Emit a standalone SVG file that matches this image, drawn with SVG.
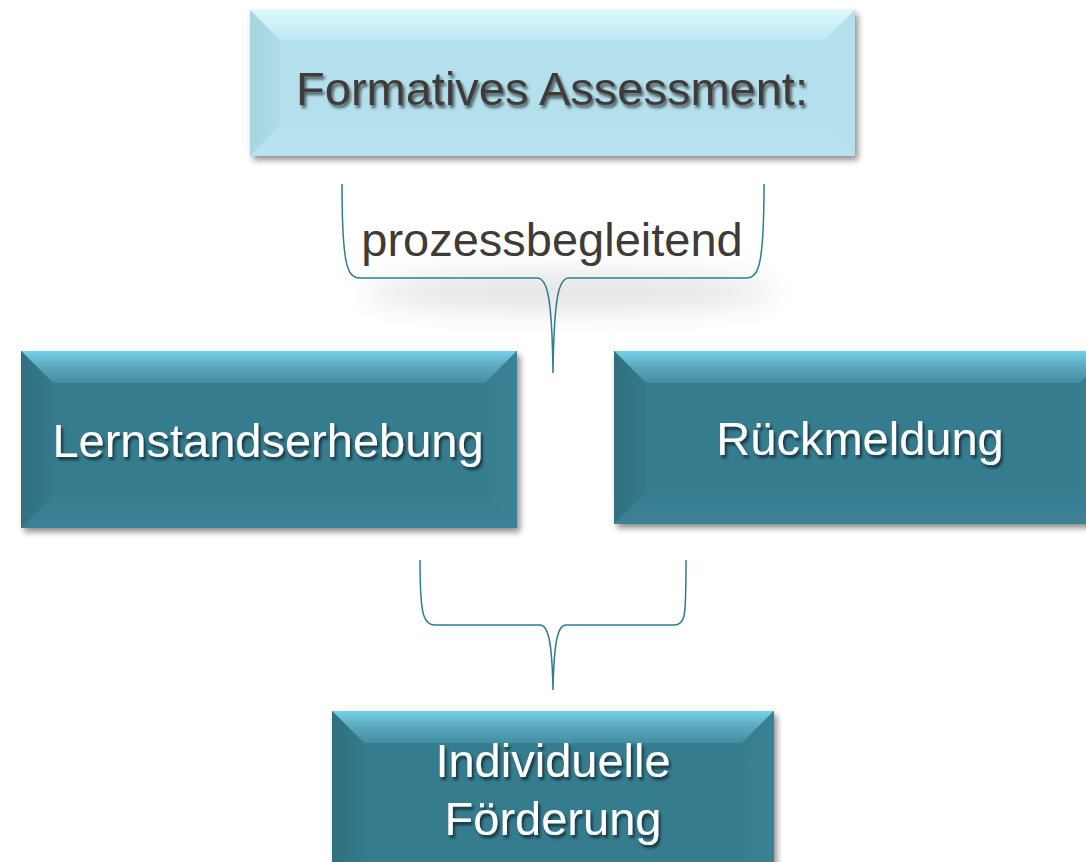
<svg xmlns="http://www.w3.org/2000/svg" width="1086" height="862" viewBox="0 0 1086 862">
<defs>
  <filter id="drop" x="-10%" y="-10%" width="125%" height="130%">
    <feGaussianBlur in="SourceAlpha" stdDeviation="3"/>
    <feOffset dx="3" dy="4" result="b"/>
    <feComponentTransfer><feFuncA type="linear" slope="0.45"/></feComponentTransfer>
    <feMerge><feMergeNode/><feMergeNode in="SourceGraphic"/></feMerge>
  </filter>
  <filter id="tshadow" x="-5%" y="-20%" width="115%" height="150%">
    <feGaussianBlur in="SourceAlpha" stdDeviation="1.6"/>
    <feOffset dx="2" dy="3" result="b"/>
    <feComponentTransfer><feFuncA type="linear" slope="0.6"/></feComponentTransfer>
    <feMerge><feMergeNode/><feMergeNode in="SourceGraphic"/></feMerge>
  </filter>
  <filter id="soft" x="-30%" y="-100%" width="160%" height="300%">
    <feGaussianBlur stdDeviation="14"/>
  </filter>
  <linearGradient id="tTop" x1="0" y1="0" x2="0" y2="1">
    <stop offset="0" stop-color="#74d0e8"/>
    <stop offset="0.5" stop-color="#5aa8bd"/>
    <stop offset="1" stop-color="#458ea2"/>
  </linearGradient>
  <linearGradient id="tLeft" x1="0" y1="0" x2="1" y2="0">
    <stop offset="0" stop-color="#30707f"/>
    <stop offset="1" stop-color="#35798c"/>
  </linearGradient>
  <linearGradient id="tRight" x1="0" y1="0" x2="1" y2="0">
    <stop offset="0" stop-color="#387e91"/>
    <stop offset="1" stop-color="#3a8194"/>
  </linearGradient>
  <linearGradient id="tBot" x1="0" y1="0" x2="0" y2="1">
    <stop offset="0" stop-color="#377d90"/>
    <stop offset="1" stop-color="#3b8195"/>
  </linearGradient>
  <linearGradient id="lTop" x1="0" y1="0" x2="0" y2="1">
    <stop offset="0" stop-color="#dcf8fd"/>
    <stop offset="1" stop-color="#bfe8f2"/>
  </linearGradient>
  <linearGradient id="lLeft" x1="0" y1="0" x2="1" y2="0">
    <stop offset="0" stop-color="#a6d4e1"/>
    <stop offset="1" stop-color="#afdce8"/>
  </linearGradient>
  <style>
    .t { font-family: "Liberation Sans", Arial, sans-serif; font-size: 47px; text-anchor: middle; }
    .w { fill: #ffffff; }
    .d { fill: #403b37; }
    .face { fill: #367c8f; }
    .lface { fill: #b3e0ec; }
    .brace { fill: none; stroke: #2e7d91; stroke-width: 1.5; }
  </style>
</defs>
<rect width="1086" height="862" fill="#ffffff"/>

<!-- callout shadow -->
<ellipse cx="570" cy="292" rx="205" ry="20" fill="#000" opacity="0.1" filter="url(#soft)"/>

<g id="node-formatives">
  <g filter="url(#drop)">
    <rect x="250" y="10" width="605" height="146" class="lface"/>
    <polygon points="250,10 855,10 825,40 280,40" fill="url(#lTop)"/>
    <polygon points="250,10 280,40 280,126 250,156" fill="url(#lLeft)"/>
    <polygon points="855,10 855,156 825,126 825,40" fill="#b5e1ed"/>
    <polygon points="250,156 280,126 825,126 855,156" fill="#b7e3ee"/>
    <rect x="280" y="40" width="545" height="86" class="lface"/>
  </g>
  <text x="552" y="105" class="t d" filter="url(#tshadow)">Formatives Assessment:</text>
</g>

<g id="node-lernstand">
  <g filter="url(#drop)">
    <rect x="21" y="351" width="496" height="177" class="face"/>
    <polygon points="21,351 517,351 485,383 53,383" fill="url(#tTop)"/>
    <polygon points="21,351 53,383 53,496 21,528" fill="url(#tLeft)"/>
    <polygon points="517,351 517,528 485,496 485,383" fill="url(#tRight)"/>
    <polygon points="21,528 53,496 485,496 517,528" fill="url(#tBot)"/>
    <rect x="53" y="383" width="432" height="113" class="face"/>
  </g>
  <text x="268" y="457" class="t w" filter="url(#tshadow)">Lernstandserhebung</text>
</g>

<g id="node-rueckmeldung">
  <g filter="url(#drop)">
    <rect x="614" y="351" width="498" height="173" class="face"/>
    <polygon points="614,351 1112,351 1080,383 646,383" fill="url(#tTop)"/>
    <polygon points="614,351 646,383 646,492 614,524" fill="url(#tLeft)"/>
    <polygon points="1112,351 1112,524 1080,492 1080,383" fill="url(#tRight)"/>
    <polygon points="614,524 646,492 1080,492 1112,524" fill="url(#tBot)"/>
    <rect x="646" y="383" width="434" height="109" class="face"/>
  </g>
  <text x="860" y="455" class="t w" filter="url(#tshadow)">Rückmeldung</text>
</g>

<g id="node-foerderung">
  <g filter="url(#drop)">
    <rect x="332" y="711" width="442" height="177" class="face"/>
    <polygon points="332,711 774,711 742,743 364,743" fill="url(#tTop)"/>
    <polygon points="332,711 364,743 364,856 332,888" fill="url(#tLeft)"/>
    <polygon points="774,711 774,888 742,856 742,743" fill="url(#tRight)"/>
    <rect x="364" y="743" width="378" height="113" class="face"/>
  </g>
  <text x="553" y="777" class="t w" filter="url(#tshadow)">Individuelle</text>
  <text x="553" y="835" class="t w" filter="url(#tshadow)">Förderung</text>
</g>

<g id="connectors">
  <path class="brace" d="M342,184 C342,225 344,258 348,268 Q351,278 360,278 L537,278 C547,278 552,295 553,373 C554,295 559,278 569,278 L746,278 Q755,278 758,268 C762,258 764,225 764,184"/>
  <path class="brace" d="M420,560 C420,590 421,608 424,616 Q427,625 435,625 L540,625 C548,625 552,640 553,690 C554,640 558,625 566,625 L674,625 Q682,625 684,616 C686,608 686,590 686,560"/>
  <text x="552" y="256" class="t d">prozessbegleitend</text>
</g>
</svg>
